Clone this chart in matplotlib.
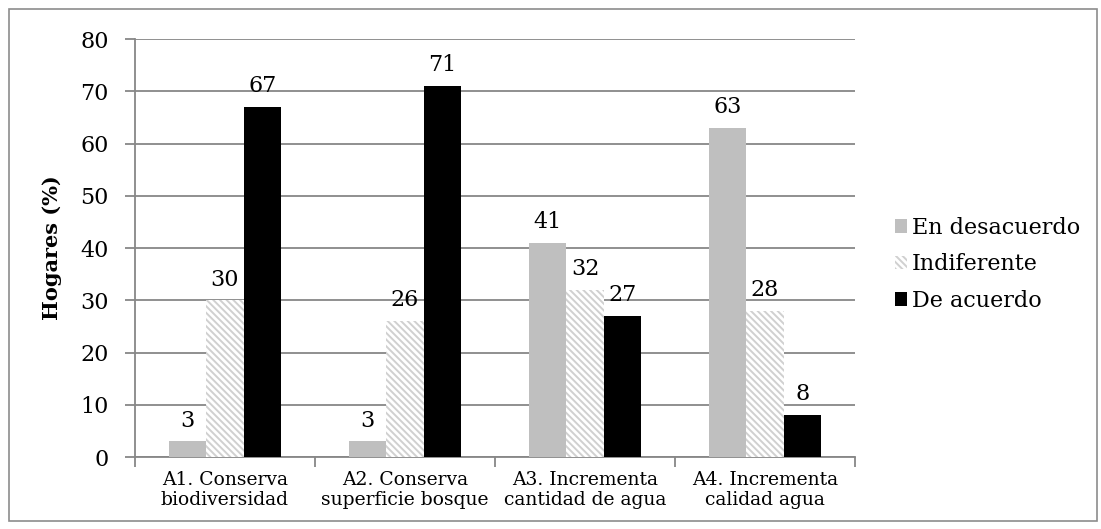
import numpy as np
import matplotlib.pyplot as plt
from matplotlib.patches import Rectangle

# Porcentaje de hogares por afirmación
categorias = ["A1. Conserva\nbiodiversidad", "A2. Conserva\nsuperficie bosque",
              "A3. Incrementa\ncantidad de agua", "A4. Incrementa\ncalidad agua"]
en_desacuerdo = [3, 3, 41, 63]
indiferente = [30, 26, 32, 28]
de_acuerdo = [67, 71, 27, 8]
series = ["En desacuerdo", "Indiferente", "De acuerdo"]

plt.rcParams['font.family'] = ['DejaVu Serif']
plt.rcParams['hatch.linewidth'] = 1.4

fig = plt.figure(figsize=(11.01, 5.29), dpi=100)
ax = fig.add_axes([0.1226, 0.1361, 0.654, 0.790])

# marco exterior del gráfico
fig.patches.append(Rectangle((0.008, 0.015), 0.988, 0.968, transform=fig.transFigure,
                             fill=False, edgecolor='#8c8c8c', linewidth=1.2))

x = np.arange(len(categorias))
w = 0.208
gris = '#bfbfbf'
b1 = ax.bar(x - w, en_desacuerdo, w, color=gris, linewidth=0, zorder=3)
b2 = ax.bar(x, indiferente, w, color='white', edgecolor='#d0d0d0', hatch='\\\\\\\\\\',
            linewidth=0, zorder=3)
b3 = ax.bar(x + w, de_acuerdo, w, color='black', linewidth=0, zorder=3)

for barras, vals in zip([b1, b2, b3], [en_desacuerdo, indiferente, de_acuerdo]):
    for b, v in zip(barras, vals):
        ax.annotate(str(v), (b.get_x() + b.get_width() / 2, v), xytext=(0, 7),
                    textcoords='offset points', ha='center', va='bottom', fontsize=16)

ax.set_xlim(-0.5, 3.5)
ax.set_ylim(0, 80)
ax.set_yticks(range(0, 81, 10))
ax.yaxis.grid(True, color='#878787', linewidth=1.3, zorder=0)
ax.set_axisbelow(True)

ax.set_xticks(np.arange(-0.5, 4, 1), minor=False)
ax.set_xticklabels([])
ax.set_xticks(x, minor=True)
ax.set_xticklabels(categorias, minor=True, fontsize=13.5, linespacing=1.15)
ax.tick_params(axis='x', which='minor', length=0, pad=10)
ax.tick_params(axis='x', which='major', length=7, width=1.3, color='#878787')
ax.tick_params(axis='y', length=7, width=1.3, color='#878787', pad=12, labelsize=16)

for s in ['top', 'right']:
    ax.spines[s].set_visible(False)
for s in ['left', 'bottom']:
    ax.spines[s].set_color('#878787')
    ax.spines[s].set_linewidth(1.3)

ax.set_ylabel("Hogares (%)", fontsize=15, fontweight='bold', labelpad=13)

ax.legend([b1, b2, b3], series, loc='center left', bbox_to_anchor=(0.803, 0.500),
          bbox_transform=fig.transFigure, frameon=False, fontsize=16,
          borderpad=0, handlelength=0.55, handleheight=0.55, handletextpad=0.2,
          labelspacing=0.65)

fig.savefig("out.png", dpi=100)
